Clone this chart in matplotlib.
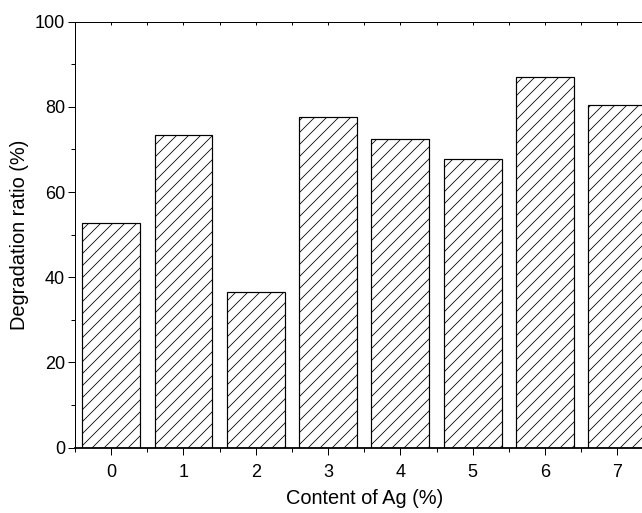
import numpy as np
import matplotlib.pyplot as plt
from matplotlib.ticker import MultipleLocator

plt.rcParams['font.family'] = ['Liberation Sans', 'DejaVu Sans']
plt.rcParams['hatch.linewidth'] = 0.8

# Data
ag_content = [0, 1, 2, 3, 4, 5, 6, 7]
degradation = [52.7, 73.3, 36.6, 77.7, 72.5, 67.8, 87.0, 80.5]

fig = plt.figure(figsize=(642 / 72, 513 / 72), dpi=72)
# axes run past the right edge of the figure, as in the cropped original
ax = fig.add_axes([0.1168, 0.1273, 0.901, 0.8304])

ax.bar(ag_content, degradation, width=0.8, facecolor='white',
       edgecolor='black', linewidth=1.2, hatch='//')

ax.set_xlim(-0.5, 7.5)
ax.set_ylim(0, 100)

ax.xaxis.set_major_locator(MultipleLocator(1))
ax.xaxis.set_minor_locator(MultipleLocator(0.5))
ax.yaxis.set_major_locator(MultipleLocator(20))
ax.yaxis.set_minor_locator(MultipleLocator(10))

ax.spines['right'].set_visible(False)
ax.spines['left'].set_linewidth(1.0)
ax.spines['top'].set_linewidth(1.0)
ax.spines['bottom'].set_linewidth(1.8)

ax.tick_params(axis='both', which='major', direction='out', length=7,
               width=1.0, labelsize=18, colors='black')
ax.tick_params(axis='x', which='major', pad=9)
ax.tick_params(axis='y', which='major', pad=3)
ax.tick_params(axis='both', which='minor', direction='out', length=4, width=1.0)
# small inward ticks along the top spine
ax2 = ax.secondary_xaxis('top')
ax2.xaxis.set_major_locator(MultipleLocator(1))
ax2.xaxis.set_minor_locator(MultipleLocator(0.5))
ax2.tick_params(which='both', direction='in', length=3, width=1.0, labeltop=False)
ax.tick_params(axis='x', which='both', top=False)

ax.set_xlabel('Content of Ag (%)', fontsize=20, labelpad=8)
ax.set_ylabel('Degradation ratio (%)', fontsize=20, labelpad=6)

fig.savefig('out.png', dpi=72)
